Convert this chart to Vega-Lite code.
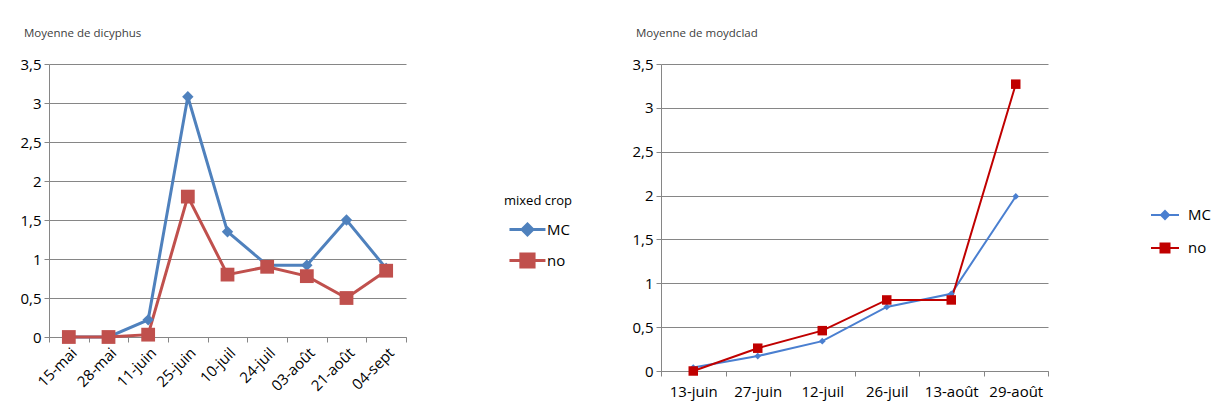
{
  "$schema": "https://vega.github.io/schema/vega-lite/v6.json",
  "background": "white",
  "padding": {"left": 5, "top": 27, "right": 5, "bottom": 5},
  "spacing": 44,
  "config": {
    "font": "Open Sans",
    "view": {"stroke": null},
    "axis": {
      "domainColor": "#868686",
      "tickColor": "#868686",
      "gridColor": "#868686",
      "gridOpacity": 1,
      "labelColor": "#000000",
      "labelFontSize": 15,
      "labelFont": "Open Sans",
      "tickSize": 5,
      "labelPadding": 3,
      "title": null
    },
    "legend": {"labelFont": "Open Sans", "titleFont": "Open Sans"},
    "title": {"font": "Open Sans", "fontSize": 11.5, "fontWeight": "normal", "color": "#404040", "anchor": "start", "frame": "bounds"}
  },
  "datasets": {
    "dicyphus": [
      {"date": "15-mai", "series": "MC", "value": 0},
      {"date": "28-mai", "series": "MC", "value": 0},
      {"date": "11-juin", "series": "MC", "value": 0.22},
      {"date": "25-juin", "series": "MC", "value": 3.08},
      {"date": "10-juil", "series": "MC", "value": 1.35},
      {"date": "24-juil", "series": "MC", "value": 0.92},
      {"date": "03-août", "series": "MC", "value": 0.92},
      {"date": "21-août", "series": "MC", "value": 1.5},
      {"date": "04-sept", "series": "MC", "value": 0.88},
      {"date": "15-mai", "series": "no", "value": 0},
      {"date": "28-mai", "series": "no", "value": 0},
      {"date": "11-juin", "series": "no", "value": 0.03},
      {"date": "25-juin", "series": "no", "value": 1.8},
      {"date": "10-juil", "series": "no", "value": 0.8},
      {"date": "24-juil", "series": "no", "value": 0.9},
      {"date": "03-août", "series": "no", "value": 0.78},
      {"date": "21-août", "series": "no", "value": 0.5},
      {"date": "04-sept", "series": "no", "value": 0.85}
    ],
    "moyclad": [
      {"date": "13-juin", "series": "MC", "value": 0.04},
      {"date": "27-juin", "series": "MC", "value": 0.17},
      {"date": "12-juil", "series": "MC", "value": 0.34},
      {"date": "26-juil", "series": "MC", "value": 0.73},
      {"date": "13-août", "series": "MC", "value": 0.88},
      {"date": "29-août", "series": "MC", "value": 1.99},
      {"date": "13-juin", "series": "no", "value": 0},
      {"date": "27-juin", "series": "no", "value": 0.26},
      {"date": "12-juil", "series": "no", "value": 0.46},
      {"date": "26-juil", "series": "no", "value": 0.81},
      {"date": "13-août", "series": "no", "value": 0.81},
      {"date": "29-août", "series": "no", "value": 3.27}
    ]
  },
  "resolve": {"scale": {"color": "independent"}, "legend": {"color": "independent"}},
  "hconcat": [
    {
      "width": 357,
      "height": 273,
      "title": {"text": "Moyenne de dicyphus", "dx": 19, "offset": 18},
      "data": {"name": "dicyphus"},
      "encoding": {
        "x": {
          "field": "date",
          "type": "nominal",
          "sort": ["15-mai", "28-mai", "11-juin", "25-juin", "10-juil", "24-juil", "03-août", "21-août", "04-sept"],
          "scale": {"type": "band", "paddingInner": 0, "paddingOuter": 0},
          "axis": {"labelAngle": -45, "tickBand": "extent", "grid": false}
        },
        "y": {
          "field": "value",
          "type": "quantitative",
          "scale": {"domain": [0, 3.5], "nice": false},
          "axis": {"values": [0, 0.5, 1, 1.5, 2, 2.5, 3, 3.5], "labelExpr": "replace(toString(datum.value), '.', ',')", "minExtent": 44, "grid": true}
        }
      },
      "layer": [
        {
          "mark": {"type": "line", "strokeWidth": 3},
          "encoding": {
            "color": {
              "field": "series",
              "type": "nominal",
              "scale": {"domain": ["MC", "no"], "range": ["#4F81BD", "#C0504D"]},
              "legend": {
                "title": "mixed crop",
                "orient": "none",
                "legendX": 455,
                "legendY": 131,
                "titleFontSize": 13,
                "titleFontWeight": "normal",
                "titleColor": "#000000",
                "titlePadding": 8,
                "labelFontSize": 15,
                "labelColor": "#000000",
                "symbolSize": 576,
                "labelOffset": 16,
                "rowPadding": 6,
                "encode": {
                  "symbols": {
                    "update": {
                      "shape": {"signal": "datum.value == 'MC' ? 'M-0.67,0L2.33,0M0.83,-0.45L1.28,0L0.83,0.45L0.38,0Z' : 'M-0.67,0L2.33,0M0.28,-0.55L1.38,-0.55L1.38,0.55L0.28,0.55Z'"},
                      "fill": {"signal": "datum.value == 'MC' ? '#4F81BD' : '#C0504D'"},
                      "stroke": {"signal": "datum.value == 'MC' ? '#4F81BD' : '#C0504D'"},
                      "strokeWidth": {"value": 3},
                      "size": {"value": 576},
                      "opacity": {"value": 1}
                    }
                  }
                }
              }
            }
          }
        },
        {
          "transform": [{"filter": "datum.series == 'MC'"}],
          "mark": {"type": "point", "shape": "diamond", "filled": true, "size": 130, "color": "#4F81BD", "opacity": 1}
        },
        {
          "transform": [{"filter": "datum.series == 'no'"}],
          "mark": {"type": "point", "shape": "square", "filled": true, "size": 190, "color": "#C0504D", "opacity": 1}
        }
      ]
    },
    {
      "width": 387,
      "height": 307,
      "title": {"text": "Moyenne de moydclad", "dx": 19, "offset": 18},
      "data": {"name": "moyclad"},
      "encoding": {
        "x": {
          "field": "date",
          "type": "nominal",
          "sort": ["13-juin", "27-juin", "12-juil", "26-juil", "13-août", "29-août"],
          "scale": {"type": "band", "paddingInner": 0, "paddingOuter": 0},
          "axis": {"labelAngle": 0, "tickBand": "extent", "grid": false, "labelPadding": 8}
        },
        "y": {
          "field": "value",
          "type": "quantitative",
          "scale": {"domain": [0, 3.5], "nice": false},
          "axis": {"values": [0, 0.5, 1, 1.5, 2, 2.5, 3, 3.5], "labelExpr": "replace(toString(datum.value), '.', ',')", "minExtent": 44, "grid": true}
        }
      },
      "layer": [
        {
          "mark": {"type": "line", "strokeWidth": 2},
          "encoding": {
            "color": {
              "field": "series",
              "type": "nominal",
              "scale": {"domain": ["MC", "no"], "range": ["#4A7FD0", "#C00000"]},
              "legend": {
                "title": null,
                "orient": "none",
                "legendX": 493,
                "legendY": 140,
                "labelFontSize": 15,
                "labelColor": "#000000",
                "symbolSize": 400,
                "labelOffset": 12,
                "rowPadding": 14,
                "encode": {
                  "symbols": {
                    "update": {
                      "shape": {"signal": "datum.value == 'MC' ? 'M-1.4,0L1.4,0M0,-0.4L0.4,0L0,0.4L-0.4,0Z' : 'M-1.4,0L1.4,0M-0.45,-0.45L0.45,-0.45L0.45,0.45L-0.45,0.45Z'"},
                      "fill": {"signal": "datum.value == 'MC' ? '#4A7FD0' : '#C00000'"},
                      "stroke": {"signal": "datum.value == 'MC' ? '#4A7FD0' : '#C00000'"},
                      "strokeWidth": {"value": 2},
                      "size": {"value": 400},
                      "opacity": {"value": 1}
                    }
                  }
                }
              }
            }
          }
        },
        {
          "transform": [{"filter": "datum.series == 'MC'"}],
          "mark": {"type": "point", "shape": "diamond", "filled": true, "size": 45, "color": "#4A7FD0", "opacity": 1}
        },
        {
          "transform": [{"filter": "datum.series == 'no'"}],
          "mark": {"type": "point", "shape": "square", "filled": true, "size": 90, "color": "#C00000", "opacity": 1}
        }
      ]
    }
  ]
}
